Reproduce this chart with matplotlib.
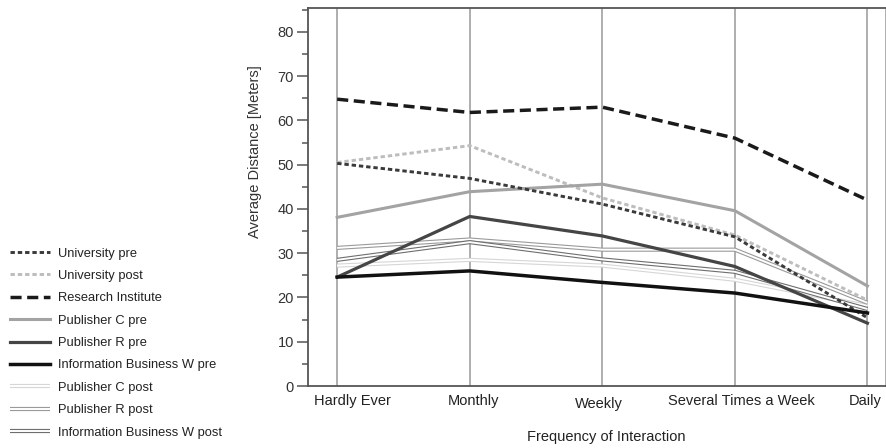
import matplotlib
matplotlib.use('Agg')
import matplotlib.pyplot as plt
import matplotlib.patheffects as pe
import matplotlib.transforms as mtransforms
from matplotlib.ticker import MultipleLocator

plt.rcParams['font.family'] = ['Liberation Sans', 'DejaVu Sans']

categories = ['Hardly Ever', 'Monthly', 'Weekly', 'Several Times a Week', 'Daily']

univ_pre = [50.3, 46.9, 41.1, 33.7, 15.4]
univ_post = [50.5, 54.3, 42.5, 34.1, 19.4]
research = [64.8, 61.8, 63.0, 56.0, 42.0]
pubC_pre = [38.1, 43.9, 45.6, 39.6, 22.6]
pubR_pre = [24.6, 38.3, 33.9, 27.0, 14.2]
infoW_pre = [24.6, 26.0, 23.4, 21.0, 16.5]
pubC_post = [27.2, 28.5, 27.2, 24.0, 18.1]
pubR_post = [31.2, 33.1, 30.8, 30.8, 18.8]
infoW_post = [28.5, 32.5, 28.6, 25.8, 17.4]

x = list(range(len(categories)))

fig = plt.figure(figsize=(8.87, 4.48), dpi=100)
ax = fig.add_axes([308 / 887, 1 - 386 / 448, 578 / 887, 378 / 448])

# vertical guide lines at each category
for xi in x:
    ax.axvline(xi, color='#a8a8a8', lw=1.3, zorder=1)


def double(color):
    return [pe.Stroke(linewidth=3.0, foreground=color),
            pe.Stroke(linewidth=1.4, foreground='white')]


# post series drawn as double lines
post_kw = dict(lw=3, zorder=2, solid_capstyle='butt')
h_cpost, = ax.plot(x, pubC_post, color='#d6d6d6', path_effects=double('#d6d6d6'),
                   label='Publisher C post', **post_kw)
h_rpost, = ax.plot(x, pubR_post, color='#9a9a9a', path_effects=double('#9a9a9a'),
                   label='Publisher R post', **post_kw)
h_wpost, = ax.plot(x, infoW_post, color='#6e6e6e', path_effects=double('#6e6e6e'),
                   label='Information Business W post', **post_kw)

h_upre, = ax.plot(x, univ_pre, color='#3a3a3a', lw=2.1, ls=(0, (1.5, 1.0)),
                  zorder=4, label='University pre')
h_upost, = ax.plot(x, univ_post, color='#bdbdbd', lw=2.1, ls=(0, (1.5, 1.0)),
                   zorder=3, label='University post')
h_res, = ax.plot(x, research, color='#1a1a1a', lw=2.5, ls=(0, (3.2, 1.6)),
                 zorder=4, label='Research Institute')
h_cpre, = ax.plot(x, pubC_pre, color='#a3a3a3', lw=2.2, zorder=3,
                  label='Publisher C pre')
h_rpre, = ax.plot(x, pubR_pre, color='#454545', lw=2.3, zorder=4,
                  label='Publisher R pre')
h_wpre, = ax.plot(x, infoW_pre, color='#111111', lw=2.5, zorder=4,
                  label='Information Business W pre')

ax.set_xlim(-0.22, 4.14)
ax.set_ylim(0, 85.4)
ax.yaxis.set_major_locator(MultipleLocator(10))
ax.yaxis.set_minor_locator(MultipleLocator(5))
ax.set_yticks(range(0, 81, 10))
ax.tick_params(axis='y', which='major', length=8, width=1.1, color='#555555',
               labelsize=10.5, labelcolor='#333333', pad=2)
ax.tick_params(axis='y', which='minor', length=4.5, width=1.1, color='#555555')

ax.set_xticks(x)
ax.set_xticklabels(categories)
ax.tick_params(axis='x', length=0, labelsize=10.5, labelcolor='#222222', pad=6)
offsets = [(15, 0), (4, 0), (-3, -3), (7, 0), (-2, 0)]
for lbl, (dx, dy) in zip(ax.get_xticklabels(), offsets):
    lbl.set_transform(lbl.get_transform() +
                      mtransforms.ScaledTranslation(dx / 100, dy / 100, fig.dpi_scale_trans))

for side in ['left', 'bottom', 'top']:
    ax.spines[side].set_color('#555555')
    ax.spines[side].set_linewidth(1.3)
ax.spines['right'].set_color('#a8a8a8')
ax.spines['right'].set_linewidth(1.3)

fig.text(255 / 887, 1 - 152 / 448, 'Average Distance [Meters]', rotation=90,
         ha='center', va='center', fontsize=10.5, color='#333333')
fig.text(606 / 887, 1 - 437 / 448, 'Frequency of Interaction',
         ha='center', va='center', fontsize=10.5, color='#222222')

handles = [h_upre, h_upost, h_res, h_cpre, h_rpre, h_wpre, h_cpost, h_rpost, h_wpost]
leg = fig.legend(handles=handles, loc='center left',
                 bbox_to_anchor=(10 / 887, 1 - 343 / 448), frameon=False,
                 fontsize=9.3, handlelength=3.1, handletextpad=0.6,
                 labelspacing=0.8, borderpad=0, borderaxespad=0)
for t in leg.get_texts():
    t.set_color('#222222')

fig.savefig('out.png', dpi=100)
